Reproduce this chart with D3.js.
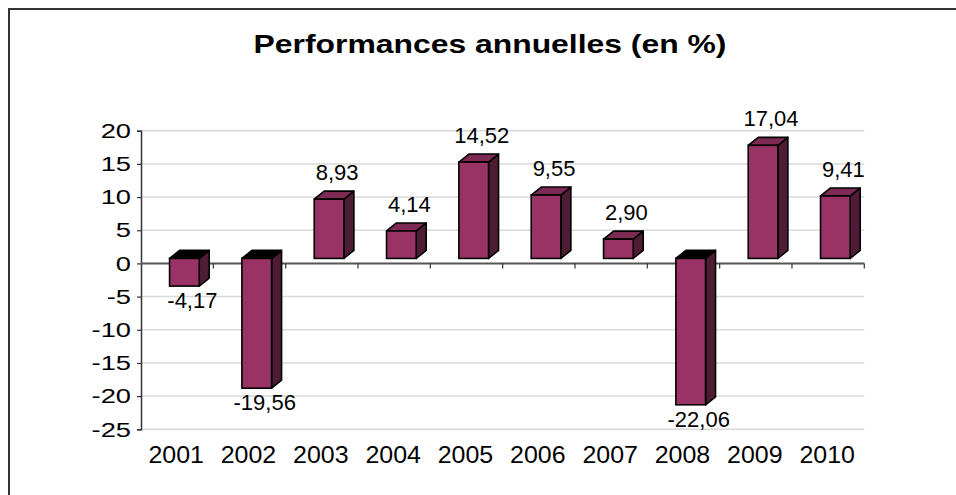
<!DOCTYPE html>
<html>
<head>
<meta charset="utf-8">
<script src="https://cdn.jsdelivr.net/npm/d3@7"></script>
<style>
  html, body { margin: 0; padding: 0; background: #fff; }
  svg { display: block; font-family: "Liberation Sans", Arial, sans-serif; }
</style>
</head>
<body>
<svg id="chart" width="956" height="495"></svg>
<script>
// Annual performance figures
const years = ["2001", "2002", "2003", "2004", "2005", "2006", "2007", "2008", "2009", "2010"];
const performances = [-4.17, -19.56, 8.93, 4.14, 14.52, 9.55, 2.90, -22.06, 17.04, 9.41];
const yTicks = [20, 15, 10, 5, 0, -5, -10, -15, -20, -25];
const title = "Performances annuelles (en %)";

const data = years.map((y, i) => ({ year: y, value: performances[i] }));
const fmt = v => v.toFixed(2).replace(".", ",");

const svg = d3.select("#chart");
const W = 956, H = 495;

// Frame (top and left edges)
svg.append("line").attr("x1", 8).attr("x2", W).attr("y1", 9).attr("y2", 9)
  .attr("stroke", "#333").attr("stroke-width", 2);
svg.append("line").attr("x1", 9).attr("x2", 9).attr("y1", 8).attr("y2", H)
  .attr("stroke", "#333").attr("stroke-width", 2);

// Title
svg.append("text")
  .attr("transform", "translate(490,53) scale(1.25,1)")
  .attr("text-anchor", "middle")
  .attr("font-size", 25.5).attr("font-weight", "bold").attr("fill", "#000")
  .text(title);

// Scales
const plotLeft = 141, plotRight = 864.3;
const x = d3.scaleBand().domain(years).range([plotLeft, plotRight]).padding(0);
const y = d3.scaleLinear().domain([-25, 20]).range([429.3, 130.7]);
const bw = x.bandwidth();

// Gridlines
svg.append("g").selectAll("line").data(yTicks.filter(t => t !== 0)).join("line")
  .attr("x1", plotLeft).attr("x2", plotRight)
  .attr("y1", d => y(d)).attr("y2", d => y(d))
  .attr("stroke", "#d9d9d9").attr("stroke-width", 1.5);

// Y axis
const yAxis = svg.append("g").attr("transform", `translate(${plotLeft},0)`)
  .call(d3.axisLeft(y).tickValues(yTicks).tickFormat(d => String(d)).tickSize(4).tickPadding(6));
yAxis.select(".domain").attr("stroke", "#333").attr("stroke-width", 1.5);
yAxis.selectAll(".tick line").attr("stroke", "#333").attr("stroke-width", 1.2);
yAxis.selectAll(".tick text")
  .attr("x", null)
  .attr("transform", "translate(-10,0) scale(1.3,1)")
  .attr("font-size", 21).attr("fill", "#000");

// Zero line with category separators
svg.append("line").attr("x1", plotLeft).attr("x2", plotRight)
  .attr("y1", y(0)).attr("y2", y(0))
  .attr("stroke", "#555").attr("stroke-width", 2);
svg.append("g").selectAll("line").data(years).join("line")
  .attr("x1", d => x(d) + bw).attr("x2", d => x(d) + bw)
  .attr("y1", y(0)).attr("y2", y(0) + 5)
  .attr("stroke", "#333").attr("stroke-width", 1.2);

// Category labels
const xAxis = svg.append("g").attr("transform", "translate(0,446)")
  .call(d3.axisBottom(x).tickSize(0).tickPadding(0));
xAxis.select(".domain").remove();
xAxis.selectAll(".tick text")
  .attr("transform", "translate(-1,0) scale(1.04,1)")
  .attr("font-size", 24).attr("fill", "#000");

// 3D columns
const dx = 10, dy = 8, lift = 5;
const front = "#993366", side = "#4f1c36", topPos = "#7d2a55", topNeg = "#000";
const bars = svg.append("g").selectAll("g").data(data).join("g");

bars.each(function(d) {
  const g = d3.select(this);
  const x0 = x(d.year) + bw * 0.395;
  const w = bw * 0.41;
  const yTop = Math.min(y(d.value), y(0)) - lift;
  const yBot = Math.max(y(d.value), y(0)) - lift;
  // side face
  g.append("path")
    .attr("d", `M${x0 + w},${yTop} L${x0 + w + dx},${yTop - dy} L${x0 + w + dx},${yBot - dy} L${x0 + w},${yBot} Z`)
    .attr("fill", side).attr("stroke", "#000").attr("stroke-width", 1.6).attr("stroke-linejoin", "round");
  // top face
  g.append("path")
    .attr("d", `M${x0},${yTop} L${x0 + dx},${yTop - dy} L${x0 + w + dx},${yTop - dy} L${x0 + w},${yTop} Z`)
    .attr("fill", d.value >= 0 ? topPos : topNeg).attr("stroke", "#000").attr("stroke-width", 1.6).attr("stroke-linejoin", "round");
  // front face
  g.append("rect")
    .attr("x", x0).attr("y", yTop).attr("width", w).attr("height", yBot - yTop)
    .attr("fill", front).attr("stroke", "#000").attr("stroke-width", 1.6);
  // value label
  const cx = x0 + w / 2 + 8;
  g.append("text")
    .attr("x", cx)
    .attr("y", d.value >= 0 ? yTop - dy - 11 : yBot + 22)
    .attr("text-anchor", "middle")
    .attr("font-size", 22).attr("fill", "#000")
    .text(fmt(d.value));
});
</script>
</body>
</html>
